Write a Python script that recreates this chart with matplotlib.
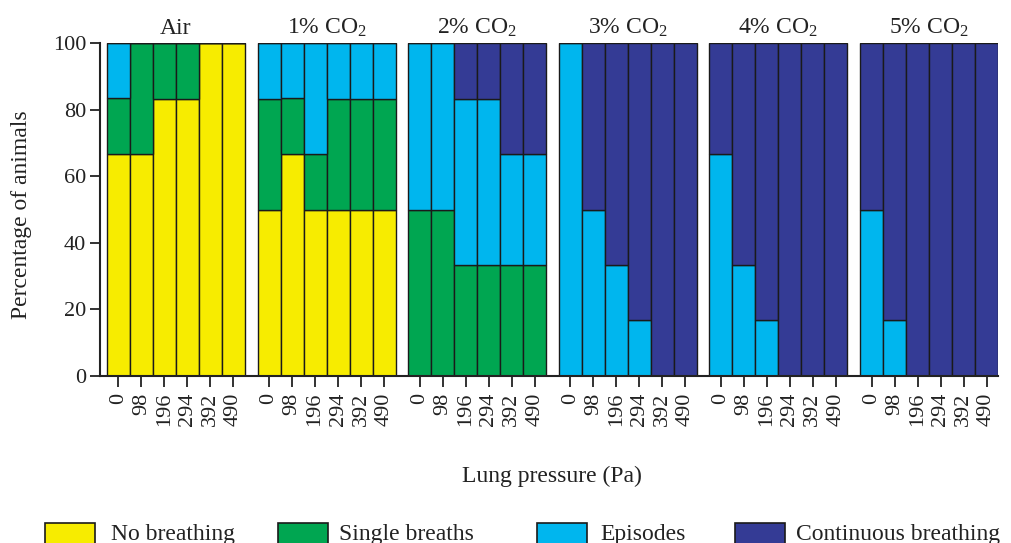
import matplotlib
matplotlib.use("Agg")
import matplotlib.pyplot as plt
from matplotlib.patches import Rectangle
import numpy as np

plt.rcParams['font.family'] = ['Liberation Serif', 'DejaVu Serif']
plt.rcParams['mathtext.fontset'] = 'custom'
plt.rcParams['mathtext.rm'] = 'Liberation Serif'
plt.rcParams['mathtext.it'] = 'Liberation Serif:italic'

groups = ["Air", "1% CO$_\\mathrm{2}$", "2% CO$_\\mathrm{2}$", "3% CO$_\\mathrm{2}$",
          "4% CO$_\\mathrm{2}$", "5% CO$_\\mathrm{2}$"]
pressures = ["0", "98", "196", "294", "392", "490"]

no_breathing = [66.67, 66.67, 83.33, 83.33, 100, 100,
                50, 66.67, 50, 50, 50, 50,
                0, 0, 0, 0, 0, 0,
                0, 0, 0, 0, 0, 0,
                0, 0, 0, 0, 0, 0,
                0, 0, 0, 0, 0, 0]
single_breaths = [16.67, 33.33, 16.67, 16.67, 0, 0,
                  33.33, 16.67, 16.67, 33.33, 33.33, 33.33,
                  50, 50, 33.33, 33.33, 33.33, 33.33,
                  0, 0, 0, 0, 0, 0,
                  0, 0, 0, 0, 0, 0,
                  0, 0, 0, 0, 0, 0]
episodes = [16.66, 0, 0, 0, 0, 0,
            16.67, 16.66, 33.33, 16.67, 16.67, 16.67,
            50, 50, 50, 50, 33.34, 33.34,
            100, 50, 33.33, 16.67, 0, 0,
            66.67, 33.33, 16.67, 0, 0, 0,
            50, 16.67, 0, 0, 0, 0]
continuous = [0, 0, 0, 0, 0, 0,
              0, 0, 0, 0, 0, 0,
              0, 0, 16.67, 16.67, 33.33, 33.33,
              0, 50, 66.67, 83.33, 100, 100,
              33.33, 66.67, 83.33, 100, 100, 100,
              50, 83.33, 100, 100, 100, 100]

series = [("No breathing", no_breathing, "#F7EC00"),
          ("Single breaths", single_breaths, "#00A651"),
          ("Episodes", episodes, "#00B6EE"),
          ("Continuous breathing", continuous, "#343B95")]

TXT = '#222222'
n_per = len(pressures)
gap = 0.55
pitch = n_per + gap
x = np.array([g * pitch + i for g in range(len(groups)) for i in range(n_per)])

fig = plt.figure(figsize=(10.11, 5.43), dpi=100)
ax = fig.add_axes([100 / 1011, 1 - 376 / 543, 898 / 1011, 333 / 543])

bottom = np.zeros(len(x))
for name, vals, col in series:
    v = np.array(vals, dtype=float)
    ax.bar(x, v, width=1.0, bottom=bottom, color=col, edgecolor="#1a1a1a",
           linewidth=1.0, label=name)
    bottom += v

ax.set_xlim(-0.8, (len(groups) - 1) * pitch + n_per - 0.5)
ax.set_ylim(0, 100)
ax.set_yticks([0, 20, 40, 60, 80, 100])
ax.set_xticks(x)
ax.set_xticklabels(pressures * len(groups), rotation=90, va='top', ha='center')
ax.tick_params(axis='both', labelsize=16, colors=TXT, width=1.3)
ax.tick_params(axis='x', length=8, pad=4)
ax.tick_params(axis='y', length=7, pad=3)
for s in ['top', 'right']:
    ax.spines[s].set_visible(False)
for s in ['left', 'bottom']:
    ax.spines[s].set_linewidth(1.5)
    ax.spines[s].set_color(TXT)

for g, name in enumerate(groups):
    cx = g * pitch + (n_per - 1) / 2
    ax.text(cx, 102.7, name, ha='center', va='baseline', fontsize=17, color=TXT)

ax.set_ylabel("Percentage of animals", fontsize=17, color=TXT, va='center')
ax.yaxis.set_label_coords(-78 / 898, (376 - 214.5) / 333)
fig.text(552 / 1011, 1 - 476 / 543, "Lung pressure (Pa)", ha='center', va='center',
         fontsize=17, color=TXT)

# legend
leg_patch_x = [45, 278, 537, 735]
leg_text_x = [111, 339, 600, 796]
for (name, vals, col), px, tx in zip(series, leg_patch_x, leg_text_x):
    fig.patches.append(Rectangle((px / 1011, 1 - 546 / 543), 50 / 1011, 23 / 543,
                                 transform=fig.transFigure, facecolor=col,
                                 edgecolor='#1a1a1a', linewidth=1.2))
    fig.text(tx / 1011, 1 - 540 / 543, name, ha='left', va='baseline', fontsize=17,
             color=TXT)

fig.savefig("out.png", dpi=100)
